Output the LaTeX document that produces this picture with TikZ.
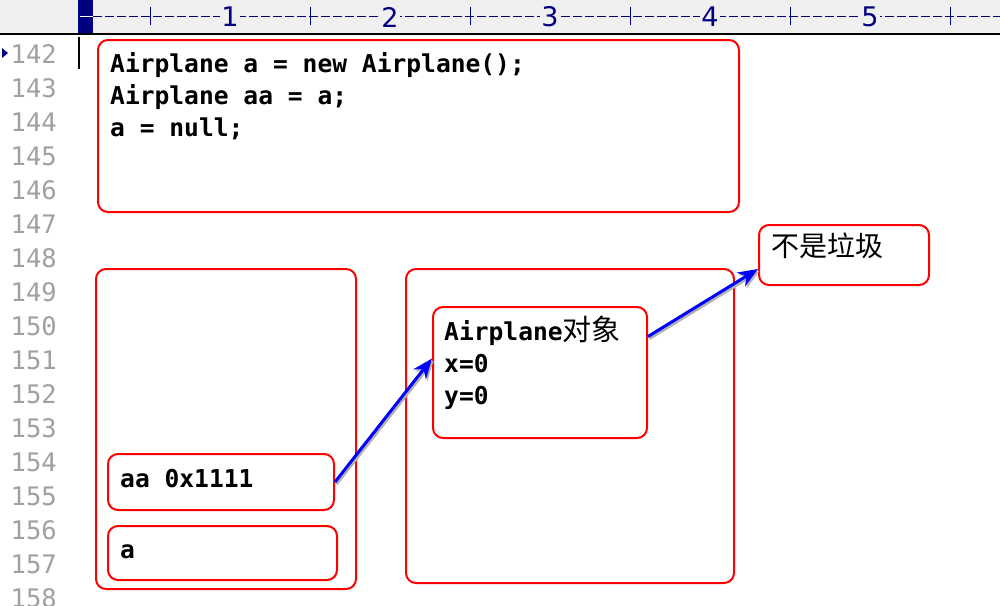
\documentclass[tikz,border=0pt]{standalone}
\usepackage{fontspec}
\newfontfamily\codefont{DejaVu Sans Mono}
\newfontfamily\numfont{DejaVu Sans Mono}
\newfontfamily\rulerfont{DejaVu Sans}
\newfontfamily\cjk{Noto Sans CJK SC}
\usetikzlibrary{arrows.meta, positioning}
\definecolor{navy}{HTML}{000080}
\definecolor{rulergray}{HTML}{F0F0F0}
\definecolor{numgray}{HTML}{A0A0A0}

\begin{document}
\begin{tikzpicture}[
    x=1pt, y=-1pt,
    >={Stealth[length=20pt, width=16pt]},
    box/.style={draw=red, line width=2pt, rounded corners=10pt, inner sep=0pt, anchor=north west},
    code/.style={font=\codefont\bfseries\fontsize{24.6}{32}\selectfont, inner sep=0pt, anchor=base west},
    lineno/.style={font=\numfont\fontsize{25.5}{34}\selectfont, text=numgray, inner sep=0pt, anchor=base east},
    rulernum/.style={font=\rulerfont\fontsize{27}{30}\selectfont, text=navy, fill=rulergray, inner sep=1pt},
    pointer/.style={->, draw=blue, line width=3pt,
        preaction={draw=black!30, line width=3pt, transform canvas={shift={(1.5pt,-2pt)}}}}
]
\useasboundingbox (0,0) rectangle (1000,605);
\clip (0,0) rectangle (1000,605);

% Ruler
\fill[rulergray] (0,0) rectangle (1000,34);
\draw[navy, line width=1pt, dash pattern=on 9pt off 3pt] (93,16) -- (1000,16);
\foreach \t in {150,310,...,950}
    \draw[navy, line width=1pt] (\t,7) -- (\t,25);
\foreach \i in {1,...,5}
    \node[rulernum] (r\i) at ({70+160*\i},17) {\i};
\fill[navy] (78,0) rectangle (93,33);
\draw[white, line width=1pt] (80,16) -- (93,16);
\draw[black, line width=1.5pt] (0,34) -- (1000,34);

% Line numbers
\fill[navy] (2,48) -- (8,53) -- (2,58) -- cycle;
\foreach \n [count=\k from 0] in {142,...,158}
    \node[lineno] (ln\n) at (57,{63+34*\k}) {\n};
\draw[black, line width=1.5pt] (79,37) -- (79,69);

% Code
\node[box, minimum width=641pt, minimum height=172pt] (codebox) at (97,39) {};
\node[code] (c1) at (110,72) {Airplane a = new Airplane();};
\node[code] (c2) at (110,104) {Airplane aa = a;};
\node[code] (c3) at (110,136) {a = null;};

% Stack
\node[box, minimum width=260pt, minimum height=320pt] (stack) at (95,268) {};
\node[box, minimum width=226pt, minimum height=56pt] (aabox) at (107,453) {};
\node[code] (aa) at (120,487) {aa 0x1111};
\node[box, minimum width=229pt, minimum height=54pt] (abox) at (107,525) {};
\node[code] (a) at (120,558) {a};

% Heap
\node[box, minimum width=328pt, minimum height=314pt] (heap) at (405,268) {};
\node[box, minimum width=214pt, minimum height=131pt] (obj) at (432,306) {};
\node[code] (o1) at (444,340) {Airplane{\cjk\mdseries\fontsize{29}{32}\selectfont 对象}};
\node[code] (o2) at (444,372) {x=0};
\node[code] (o3) at (444,404) {y=0};

% Note
\node[font=\cjk\fontsize{28}{32}\selectfont, inner sep=0pt, anchor=west] (notetext) at (771,246) {不是垃圾};
\node[box, minimum width=170pt, minimum height=60pt] (note) at (758,224) {};

% Arrows
\draw[pointer] (aabox.east) -- ([yshift=14pt]obj.west);
\draw[pointer] ([yshift=36pt]obj.east) -- ([yshift=-14pt]note.west);

\end{tikzpicture}
\end{document}
